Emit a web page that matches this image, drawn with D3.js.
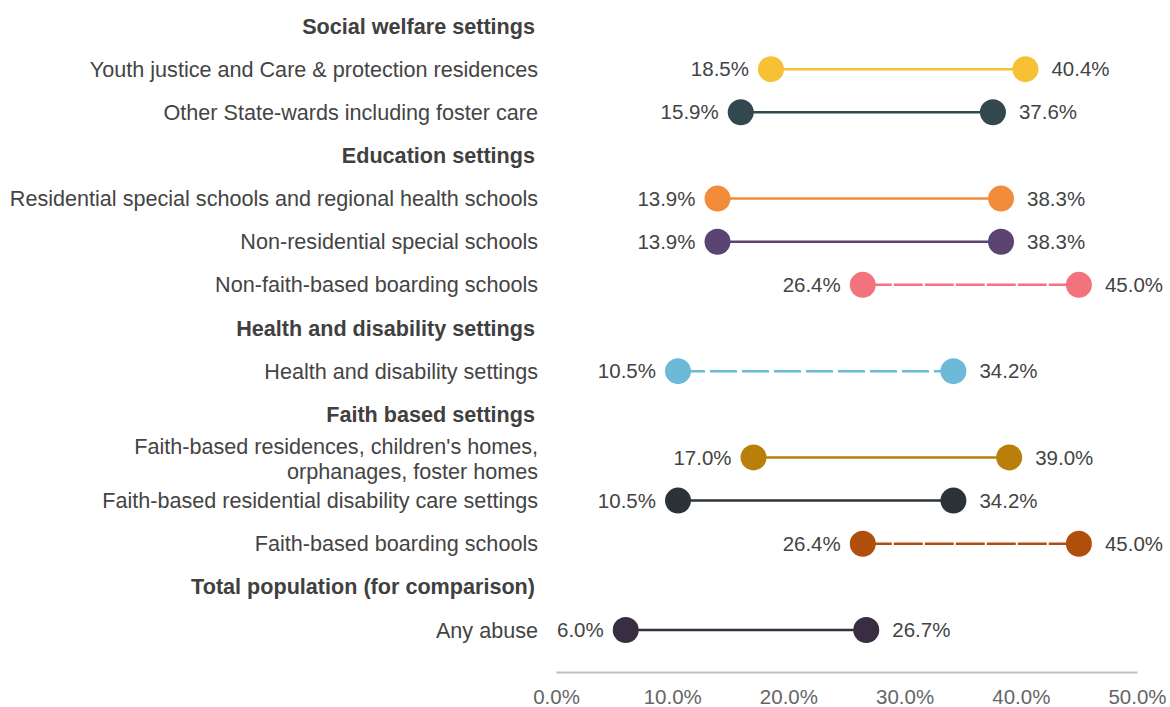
<!DOCTYPE html>
<html><head><meta charset="utf-8">
<script src="https://cdn.jsdelivr.net/npm/d3@7"></script>
<style>body{margin:0;background:#fff;}svg{display:block;font-family:"Liberation Sans",Arial,sans-serif;}</style>
</head><body><svg id="c" width="1170" height="707"></svg>
<script>
// rows: header rows have null values
const rowLabels = [
  "Social welfare settings",
  "Youth justice and Care & protection residences",
  "Other State-wards including foster care",
  "Education settings",
  "Residential special schools and regional health schools",
  "Non-residential special schools",
  "Non-faith-based boarding schools",
  "Health and disability settings",
  "Health and disability settings",
  "Faith based settings",
  "Faith-based residences, children's homes,|orphanages, foster homes",
  "Faith-based residential disability care settings",
  "Faith-based boarding schools",
  "Total population (for comparison)",
  "Any abuse"
];
const isHeader = [true,false,false,true,false,false,false,true,false,true,false,false,false,true,false];
const lowValues  = [null,18.5,15.9,null,13.9,13.9,26.4,null,10.5,null,17.0,10.5,26.4,null,6.0];
const highValues = [null,40.4,37.6,null,38.3,38.3,45.0,null,34.2,null,39.0,34.2,45.0,null,26.7];
const colors = [null,"#F7C136","#33474F",null,"#F28C3A","#5C4472","#F2737E",null,"#6CBAD8",null,"#B8800A","#2B3339","#B04E0C",null,"#392E41"];
const dashes = [null,null,null,null,null,null,"29,2",null,"27,5",null,null,null,"29,2",null,null];
const xTicks = [0,10,20,30,40,50];

const svg = d3.select("#c");
const x = d3.scaleLinear().domain([0,50]).range([556,1137]);
const y = d3.scalePoint().domain(d3.range(rowLabels.length)).range([26,630]);

// axis
const axis = d3.axisBottom(x).tickValues(xTicks).tickSize(0).tickPadding(17).tickFormat(d=>d3.format(".1f")(d)+"%");
const ag = svg.append("g").attr("transform","translate(0,672)").call(axis);
ag.select(".domain").attr("stroke","#bfbfbf").attr("stroke-width",2);
ag.selectAll("text").attr("font-size",20.5).attr("fill","#666").attr("font-family","Liberation Sans, Arial, sans-serif");

const labelX = 538;
rowLabels.forEach((lab,i)=>{
  const yy = y(i);
  const parts = lab.split("|");
  const t = svg.append("text").attr("x", isHeader[i]?535:labelX).attr("text-anchor","end")
    .attr("font-size",21.6).attr("fill",isHeader[i]?"#404040":"#444")
    .attr("font-weight",isHeader[i]?"bold":"normal");
  if(parts.length===1){
    t.attr("y",yy).attr("dy","0.35em").text(lab);
  } else {
    t.append("tspan").attr("x",labelX).attr("y",yy-11).attr("dy","0.35em").text(parts[0]);
    t.append("tspan").attr("x",labelX).attr("y",yy+14).attr("dy","0.35em").text(parts[1]);
  }
  if(lowValues[i]==null) return;
  const c = colors[i];
  const ln = svg.append("line").attr("x1",x(lowValues[i])).attr("x2",x(highValues[i]))
    .attr("y1",yy).attr("y2",yy).attr("stroke",c).attr("stroke-width",2.5);
  if(dashes[i]) ln.attr("stroke-dasharray",dashes[i]);
  [lowValues[i],highValues[i]].forEach(v=>{
    svg.append("circle").attr("cx",x(v)).attr("cy",yy).attr("r",13).attr("fill",c);
  });
  svg.append("text").attr("x",x(lowValues[i])-22).attr("y",yy).attr("dy","0.35em")
    .attr("text-anchor","end").attr("font-size",20.5).attr("fill","#444").text(lowValues[i].toFixed(1)+"%");
  svg.append("text").attr("x",x(highValues[i])+26).attr("y",yy).attr("dy","0.35em")
    .attr("text-anchor","start").attr("font-size",20.5).attr("fill","#444").text(highValues[i].toFixed(1)+"%");
});
</script></body></html>
